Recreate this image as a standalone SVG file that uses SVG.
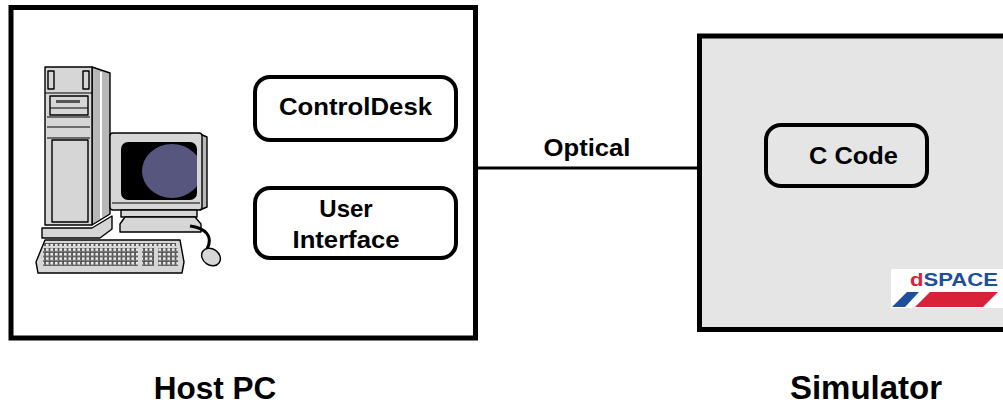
<svg xmlns="http://www.w3.org/2000/svg" width="1003" height="408" viewBox="0 0 1003 408">
  <style>
    .frame { fill: #ffffff; stroke: #000000; stroke-width: 5; }
    .sim { fill: #e5e5e5; stroke: #000000; stroke-width: 5; }
    .node { fill: #ffffff; stroke: #000000; stroke-width: 4; }
    .simnode { fill: #e5e5e5; stroke: #000000; stroke-width: 4; }
    .lbl { font-family: "Liberation Sans", Arial, sans-serif; font-weight: bold; fill: #000000; text-anchor: middle; }
    .wire { fill: none; stroke: #000000; stroke-width: 3; }
    .hw { fill: #d6d6d6; stroke: #000000; stroke-width: 1.4; stroke-linejoin: round; }
    .hwd { fill: #b8b8b8; stroke: #000000; stroke-width: 1.4; stroke-linejoin: round; }
    .thin { fill: none; stroke: #000000; stroke-width: 1; }
  </style>
  <defs>
    <pattern id="keys" x="0" y="0" width="4.5" height="4.5" patternUnits="userSpaceOnUse">
      <rect x="0.4" y="0.4" width="3.6" height="3.4" fill="#eeeeee" stroke="#333333" stroke-width="0.7"/>
    </pattern>
    <clipPath id="screenClip">
      <rect x="121" y="142" width="76" height="58" rx="7"/>
    </clipPath>
  </defs>

  <rect width="1003" height="408" fill="#ffffff"/>

  <!-- Host PC frame -->
  <g id="host-pc">
    <rect class="frame" x="11" y="7.5" width="464.5" height="330.5"/>
    <text class="lbl" x="215" y="399" font-size="31.5">Host PC</text>
  </g>

  <!-- Simulator frame -->
  <g id="simulator">
    <rect class="sim" x="699.5" y="36" width="320" height="293.5"/>
    <text class="lbl" x="866" y="399" font-size="33">Simulator</text>
  </g>

  <!-- Workstation clip-art -->
  <g id="computer">
    <!-- tower -->
    <polygon class="hwd" points="92,67 110,73 110,214 92,225"/>
    <line x1="101" y1="72" x2="101" y2="218" stroke="#ffffff" stroke-width="2"/>
    <rect class="hw" x="45" y="67" width="47" height="158"/>
    <line class="thin" x1="45" y1="93" x2="92" y2="93"/>
    <rect class="hw" x="48" y="71" width="6" height="18"/>
    <rect class="hw" x="83" y="71" width="6" height="18"/>
    <rect class="hw" x="50" y="96" width="38" height="19"/>
    <rect x="56" y="100" width="24" height="3" fill="#555555"/>
    <line class="thin" x1="50" y1="108" x2="88" y2="108"/>
    <line class="thin" x1="47" y1="117" x2="90" y2="117"/>
    <line class="thin" x1="47" y1="127" x2="90" y2="127"/>
    <line class="thin" x1="47" y1="138" x2="90" y2="138"/>
    <rect class="hw" x="52" y="140" width="36" height="82"/>
    <polygon class="hw" points="42,228 92,228 112,216 112,229 100,238 42,238"/>
    <!-- monitor -->
    <polygon class="hwd" points="200,134 207,137 207,207 200,210"/>
    <rect class="hw" x="110" y="133" width="92" height="77" rx="3"/>
    <rect x="121" y="142" width="76" height="58" rx="7" fill="#000000"/>
    <ellipse cx="172" cy="171" rx="30" ry="27" fill="#56567e" clip-path="url(#screenClip)"/>
    <line class="thin" x1="112" y1="203" x2="200" y2="203"/>
    <rect class="hw" x="121" y="210" width="76" height="7"/>
    <polygon class="hw" points="125,217 195,217 201,224 201,232 120,232 120,224"/>
    <!-- keyboard -->
    <polygon class="hw" points="45,240 180,240 184,262 182,273 38,273 36,262"/>
    <rect x="44" y="243" width="132" height="3" fill="url(#keys)"/>
    <rect x="43" y="248" width="95" height="18" fill="url(#keys)"/>
    <rect x="142" y="248" width="12" height="18" fill="url(#keys)"/>
    <rect x="158" y="248" width="20" height="18" fill="url(#keys)"/>
    <!-- mouse and cable -->
    <path class="wire" d="M190,226 C205,228 214,236 207,249" stroke-width="1.5"/>
    <ellipse class="hw" cx="211" cy="257" rx="8" ry="10" transform="rotate(-55 211 257)"/>
  </g>

  <!-- connectors -->
  <g id="connectors">
    <line class="wire" x1="475.5" y1="168" x2="699.5" y2="168"/>
    <text class="lbl" x="587" y="156" font-size="24" textLength="87" lengthAdjust="spacingAndGlyphs">Optical</text>
  </g>

  <g id="controldesk">
    <rect class="node" x="255" y="77" width="201" height="63" rx="15"/>
    <text class="lbl" x="355.5" y="115" font-size="24" textLength="153" lengthAdjust="spacingAndGlyphs">ControlDesk</text>
  </g>

  <g id="user-interface">
    <rect class="node" x="255" y="188" width="201" height="70" rx="15"/>
    <text class="lbl" x="346" y="216.5" font-size="24">User</text>
    <text class="lbl" x="346" y="248" font-size="24" textLength="107" lengthAdjust="spacingAndGlyphs">Interface</text>
  </g>

  <g id="c-code">
    <rect class="simnode" x="766" y="125" width="161" height="61" rx="15"/>
    <text class="lbl" x="853.5" y="164" font-size="24" textLength="89" lengthAdjust="spacingAndGlyphs">C Code</text>
  </g>

  <!-- vendor logo -->
  <g id="dspace-logo">
    <rect x="891" y="269" width="112" height="39" fill="#ffffff"/>
    <text x="910" y="286" font-family="'Liberation Sans', Arial, sans-serif" font-weight="bold" font-size="19" textLength="88" lengthAdjust="spacingAndGlyphs"><tspan fill="#d9213a">d</tspan><tspan fill="#1e4e9c">SPACE</tspan></text>
    <polygon points="892,307 905,307 919,292 907,292" fill="#1e4e9c"/>
    <polygon points="915,307 983,307 998,292 930,292" fill="#d9213a"/>
  </g>
</svg>
